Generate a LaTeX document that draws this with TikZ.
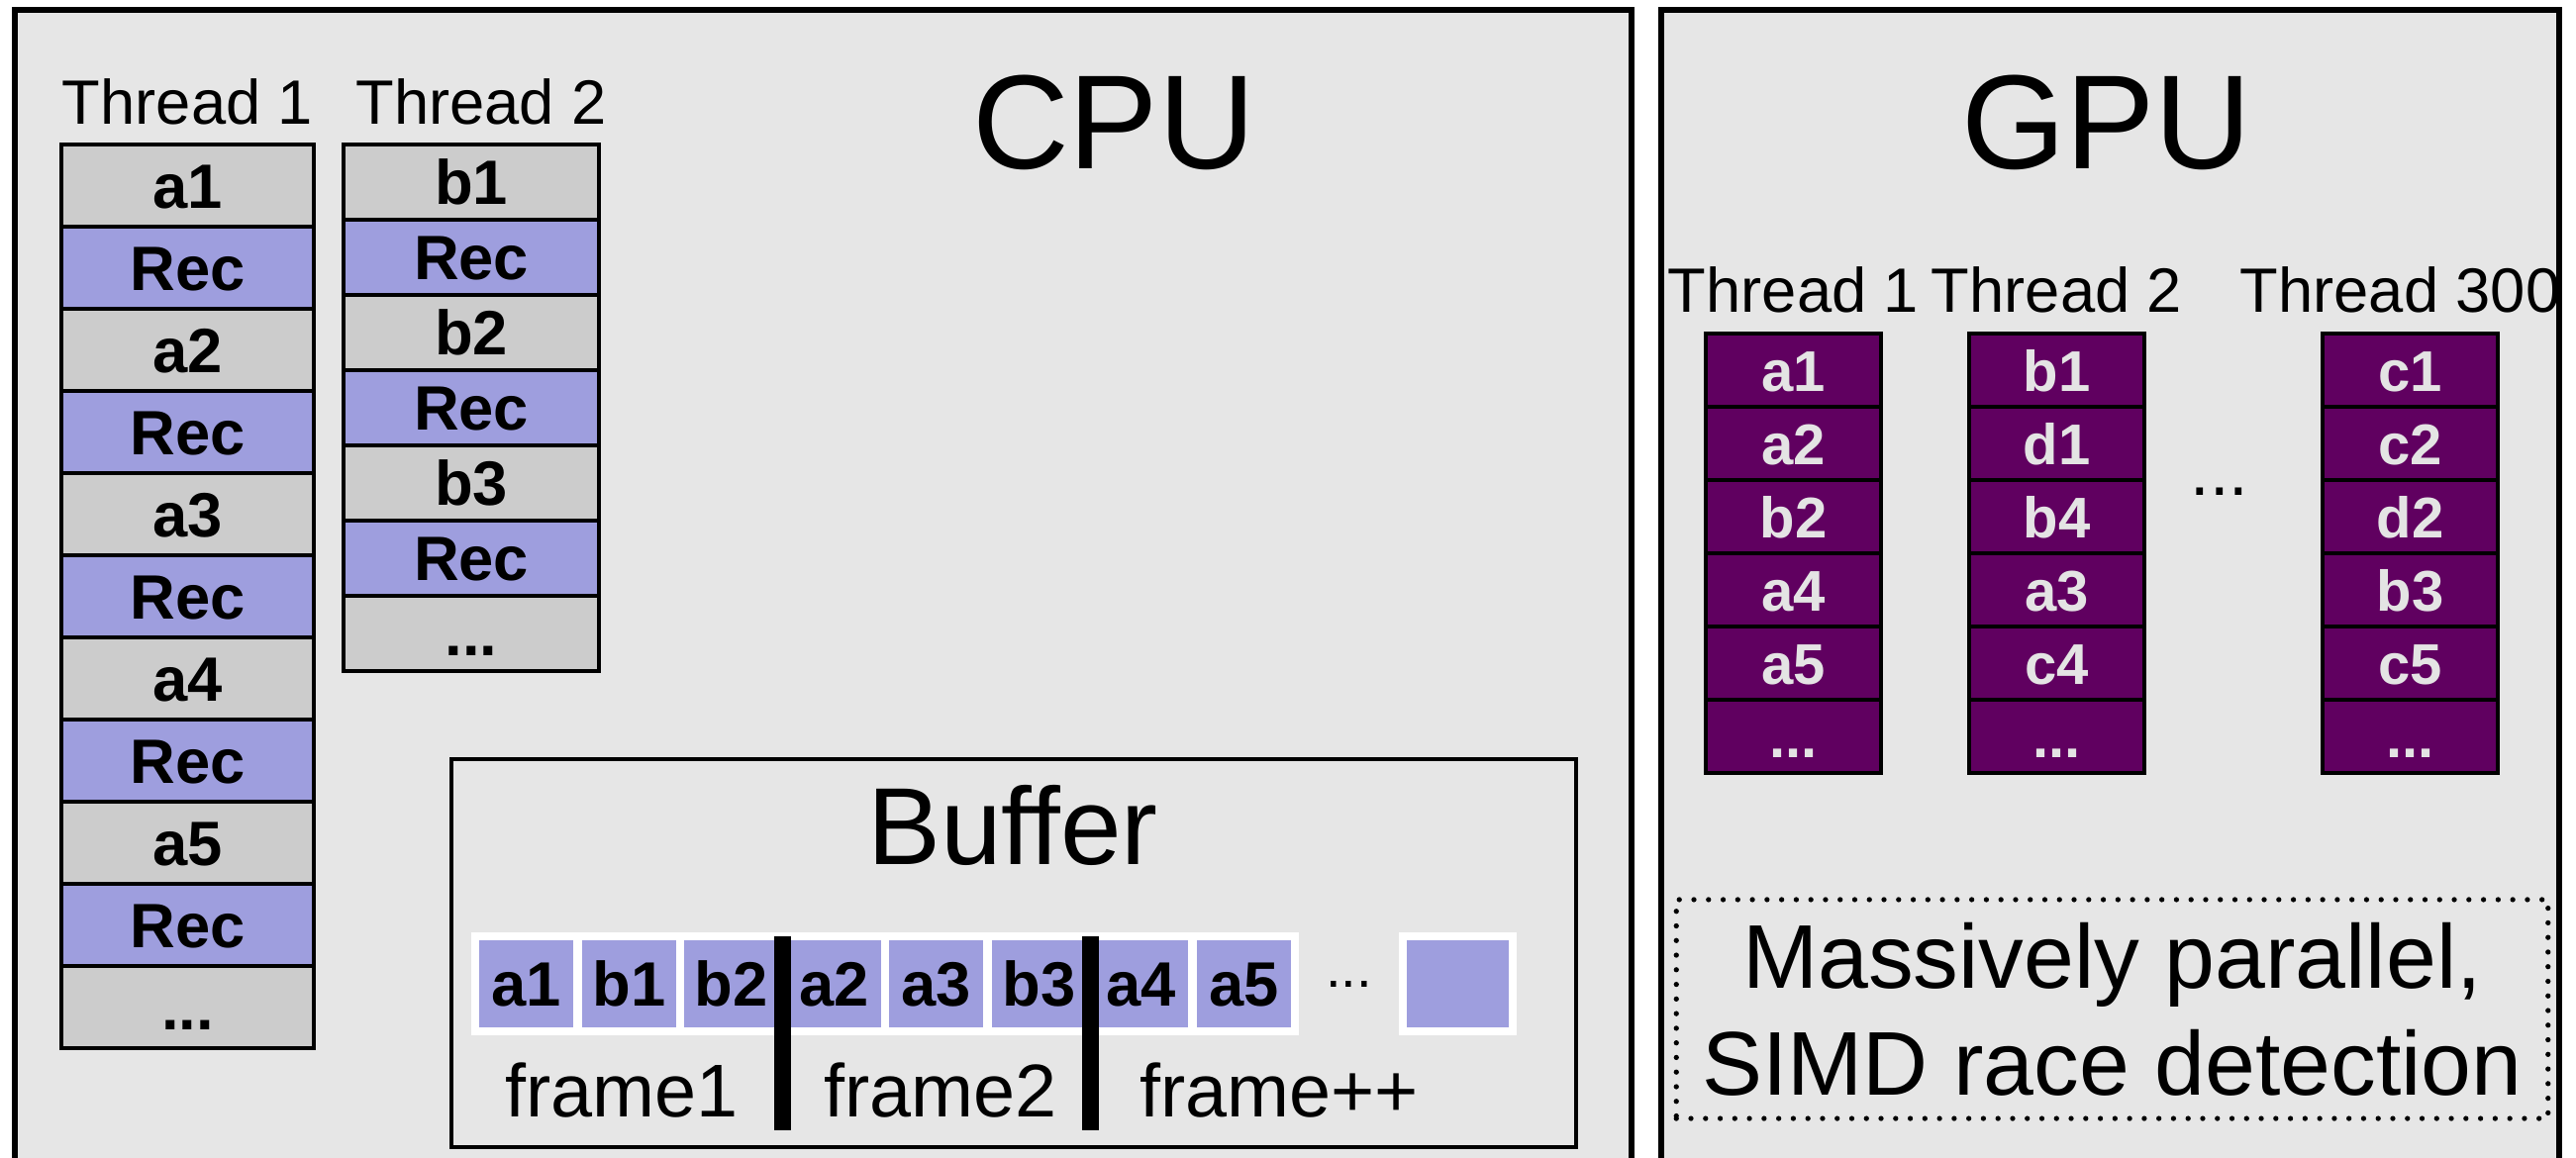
\documentclass[tikz,border=0pt]{standalone}
\usepackage{fontspec}
\setmainfont{Liberation Sans}
\usetikzlibrary{positioning,calc}
\definecolor{panelGray}{HTML}{E6E6E6}
\definecolor{cellGray}{HTML}{CCCCCC}
\definecolor{recBlue}{HTML}{9E9EDE}
\definecolor{gpuPurple}{HTML}{600060}
\definecolor{gpuText}{HTML}{E4E4E4}
\newcommand{\moredots}{...}
\tikzset{
    panel/.style={draw=black,fill=panelGray,line width=1.5pt},
    slot/.style={draw=black,line width=1.3pt,inner sep=0pt,outer sep=0pt,
        anchor=north west,text height=13pt,text depth=0pt,
        font=\fontsize{18}{20}\selectfont\bfseries},
    gpucell/.style={slot,fill=gpuPurple,text=gpuText,minimum width=1.77cm,
        minimum height=0.74cm,text height=12pt,
        font=\fontsize{16.5}{18}\selectfont\bfseries},
    bufcell/.style={draw=white,fill=recBlue,line width=2.3pt,inner sep=0pt,
        outer sep=0pt,anchor=north west,minimum width=1.035cm,minimum height=0.96cm,
        text height=13pt,text depth=0pt,font=\fontsize{18}{20}\selectfont\bfseries},
    bufframe/.style={draw=black,line width=1.1pt,inner sep=0pt,anchor=north west},
    notebox/.style={draw=black,line width=1.5pt,dash pattern=on 0pt off 4.2pt,
        line cap=round,align=center,minimum width=8.8cm,minimum height=2.21cm,
        font=\fontsize{26}{30.7}\selectfont},
    headtxt/.style={inner sep=0pt,anchor=base,font=\fontsize{38.5}{42}\selectfont},
    threadlbl/.style={inner sep=0pt,outer sep=0pt,font=\fontsize{18}{20}\selectfont},
    framelbl/.style={inner sep=0pt,anchor=base,font=\fontsize{21.5}{24}\selectfont},
    framebar/.style={draw=black,line width=4.8pt}
}

\begin{document}
\begin{tikzpicture}[x=0.01cm,y=-0.01cm]
    \useasboundingbox (0,0) rectangle (2602,1169);
    \clip (0,0) rectangle (2602,1169);
    % panels
    \draw[panel] (15,10) rectangle (1648,1190);
    \draw[panel] (1678,10) rectangle (2585,1190);
    \node[headtxt] (cpu) at (1125,170) {CPU};
    \node[headtxt] (gpu) at (2128,170) {GPU};

    % CPU threads
    \foreach \txt [count=\i] in {a1,Rec,a2,Rec,a3,Rec,a4,Rec,a5,Rec,\moredots}{
        \ifodd\i \def\cellcol{cellGray}\else \def\cellcol{recBlue}\fi
        \node[slot,fill=\cellcol,minimum width=2.55cm,minimum height=0.83cm]
            (ta-\i) at (62,{146+(\i-1)*83}) {\txt};
    }
    \foreach \txt [count=\i] in {b1,Rec,b2,Rec,b3,Rec,\moredots}{
        \ifodd\i \def\cellcol{cellGray}\else \def\cellcol{recBlue}\fi
        \node[slot,fill=\cellcol,minimum width=2.58cm,minimum height=0.76cm]
            (tb-\i) at (347,{146+(\i-1)*76}) {\txt};
    }
    \node[threadlbl,above=0.2cm of ta-1] (ta) {Thread 1};
    \node[threadlbl,above=0.2cm of tb-1,xshift=0.1cm] (tb) {Thread 2};

    % buffer
    \node[bufframe,minimum width=11.35cm,minimum height=3.92cm] (buffer) at (454,765) {};
    \node[headtxt,font=\fontsize{31.5}{34}\selectfont] (buftitle) at (1023,873) {Buffer};
    \foreach \txt [count=\i] in {a1,b1,b2,a2,a3,b3,a4,a5}
        \node[bufcell] (q-\i) at ({480+(\i-1)*103.5},946) {\txt};
    \node[bufcell,minimum width=1.11cm] (q-last) at (1417,946) {};
    \node[inner sep=0pt,font=\fontsize{16}{18}\selectfont] (qdots)
        at ($(q-8.east)!0.5!(q-last.west)$) {...};
    \draw[framebar] (q-3.north east) -- ++(0,196);
    \draw[framebar] (q-6.north east) -- ++(0,196);
    \node[framelbl] (f1) at (628,1128) {frame1};
    \node[framelbl] (f2) at (950,1128) {frame2};
    \node[framelbl] (f3) at (1292,1128) {frame++};

    % GPU threads
    \foreach \txt [count=\i] in {a1,a2,b2,a4,a5,\moredots}
        \node[gpucell] (ga-\i) at (1723,{337+(\i-1)*74}) {\txt};
    \foreach \txt [count=\i] in {b1,d1,b4,a3,c4,\moredots}
        \node[gpucell] (gb-\i) at (1989,{337+(\i-1)*74}) {\txt};
    \foreach \txt [count=\i] in {c1,c2,d2,b3,c5,\moredots}
        \node[gpucell] (gc-\i) at (2346,{337+(\i-1)*74}) {\txt};
    \node[threadlbl,above=0.21cm of ga-1] (ga) {Thread 1};
    \node[threadlbl,above=0.21cm of gb-1] (gb) {Thread 2};
    \node[threadlbl,above=0.21cm of gc-1,xshift=-0.1cm] (gc) {Thread 300};
    \node[inner sep=0pt,font=\fontsize{20}{22}\selectfont] (gdots)
        at ($(gb-2.south east)!0.5!(gc-2.south west)+(-14,12)$) {...};

    \node[notebox] (simd) at (2133.5,1019.5) {Massively parallel,\\SIMD race detection};
\end{tikzpicture}
\end{document}
